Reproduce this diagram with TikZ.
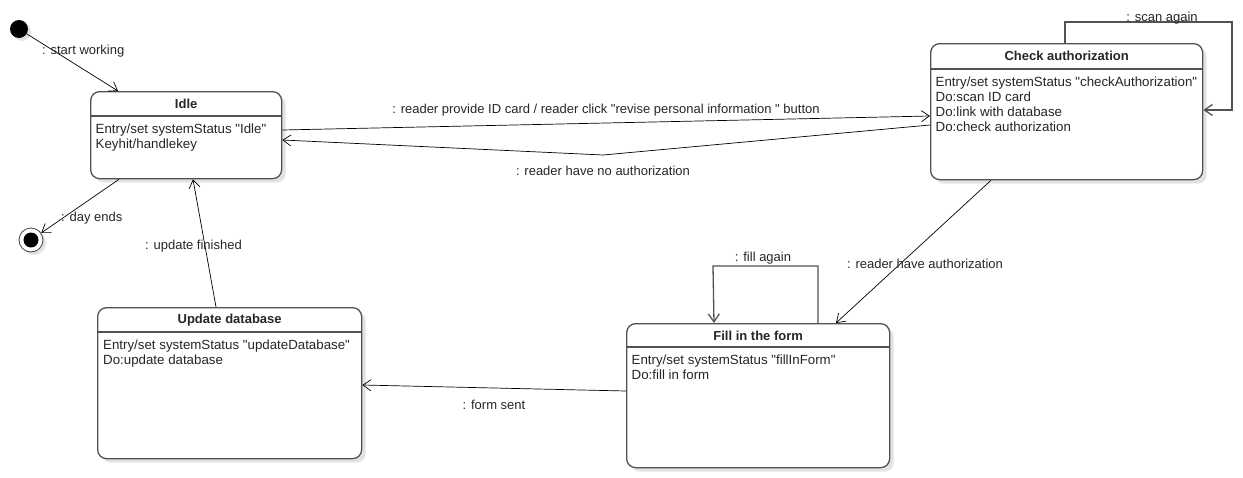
\documentclass[tikz,border=0pt]{standalone}
\usepackage{fontspec}
\setmainfont{Liberation Sans}[Ligatures=TeXOff]
\usetikzlibrary{arrows.meta,shadows,calc}
\begin{document}
\begin{tikzpicture}[x=1pt,y=-1pt,
  every node/.style={font=\fontsize{13}{15}\selectfont},
  state/.style={draw=black!68, line width=1.3pt, rounded corners=9pt, fill=white,
    inner sep=0pt, anchor=north west,
    drop shadow={shadow xshift=4pt, shadow yshift=-4pt, fill=black!22, opacity=0.5}},
  divline/.style={draw=black!68, line width=1.3pt},
  title/.style={font=\fontsize{13}{15}\selectfont\bfseries, text=black!85},
  body/.style={anchor=north west, align=left, inner sep=0pt, text=black!85,
    font=\fontsize{13.3}{15}\selectfont},
  lbl/.style={anchor=west, inner sep=0pt, text=black!85},
  conn/.style={draw=black, line width=0.7pt, -{Straight Barb[length=8pt,width=11pt]}},
  selfloop/.style={conn, draw=black!68, line width=1.3pt},
]
\useasboundingbox (0,0) rectangle (1243,477);

% initial and final states
\node[circle, fill=black, minimum size=18pt, inner sep=0pt,
  drop shadow={shadow xshift=3pt, shadow yshift=-3pt, fill=black!22, opacity=0.5}] (init) at (19,29) {};
\node[circle, draw=black!75, line width=0.8pt, fill=white, minimum size=24pt, inner sep=0pt,
  drop shadow={shadow xshift=3pt, shadow yshift=-3pt, fill=black!22, opacity=0.5},
  path picture={\fill[black] (path picture bounding box.center) circle (7.5pt);}] (final) at (31,240) {};

% Idle
\node[state, minimum width=191pt, minimum height=87pt] (idle) at (90,91) {};
\draw[divline] ([yshift=-25pt]idle.north west) -- ([yshift=-25pt]idle.north east);
\node[title] at ([yshift=-13pt]idle.north) {Idle};
\node[body] at ([shift={(5.5pt,-32.5pt)}]idle.north west) {Entry/set systemStatus "Idle"\\Keyhit/handlekey};

% Check authorization
\node[state, minimum width=272pt, minimum height=136pt] (check) at (930,43) {};
\draw[divline] ([yshift=-26pt]check.north west) -- ([yshift=-26pt]check.north east);
\node[title] at ([yshift=-13pt]check.north) {Check authorization};
\node[body] at ([shift={(5.5pt,-33.5pt)}]check.north west) {Entry/set systemStatus "checkAuthorization"\\Do:scan ID card\\Do:link with database\\Do:check authorization};

% Update database
\node[state, minimum width=264pt, minimum height=151pt] (upd) at (97,307) {};
\draw[divline] ([yshift=-25pt]upd.north west) -- ([yshift=-25pt]upd.north east);
\node[title] at ([yshift=-13pt]upd.north) {Update database};
\node[body] at ([shift={(6pt,-32.5pt)}]upd.north west) {Entry/set systemStatus "updateDatabase"\\Do:update database};

% Fill in the form
\node[state, minimum width=263pt, minimum height=144pt] (fill) at (626,323) {};
\draw[divline] ([yshift=-24pt]fill.north west) -- ([yshift=-24pt]fill.north east);
\node[title] at ([yshift=-12.5pt]fill.north) {Fill in the form};
\node[body] at ([shift={(5.5pt,-32pt)}]fill.north west) {Entry/set systemStatus "fillInForm"\\Do:fill in form};

% helper coordinates for bends
\coordinate (bendno) at (603,155);
\coordinate (scanc) at (1232,22);
\coordinate (fillc) at (713,266);

% connectors
\draw[conn] (init) -- ([xshift=28pt]idle.north west);
\draw[conn] ([xshift=29pt]idle.south west) -- (final);
\draw[conn] ([yshift=-39pt]idle.north east) -- ([yshift=-73pt]check.north west);
\draw[conn] ([yshift=-82pt]check.north west) -- (bendno) -- ([yshift=-49pt]idle.north east);
\draw[selfloop] ([xshift=135pt]check.north west) |- (scanc) |- ([yshift=-67pt]check.north east);
\draw[conn] ([xshift=61pt]check.south west) -- ([xshift=210pt]fill.north west);
\draw[selfloop] ([xshift=192pt]fill.north west) |- (fillc) -- ([xshift=88pt]fill.north west);
\draw[conn] ([yshift=-68pt]fill.north west) -- ([yshift=-78pt]upd.north east);
\draw[conn] ([xshift=119pt]upd.north west) -- ([xshift=103pt]idle.south west);

% labels
\node[lbl] at (42,51) {: start working};
\node[lbl] at (61,218) {: day ends};
\node[lbl] at (145,246) {: update finished};
\node[lbl, anchor=center] at (606,110) {: reader provide ID card / reader click "revise personal information " button};
\node[lbl, anchor=center] at (603,171) {: reader have no authorization};
\node[lbl, anchor=center] at (1162,18) {: scan again};
\node[lbl, anchor=center] at (925,264) {: reader have authorization};
\node[lbl, anchor=center] at (763,258) {: fill again};
\node[lbl, anchor=center] at (494,405) {: form sent};
\end{tikzpicture}
\end{document}
